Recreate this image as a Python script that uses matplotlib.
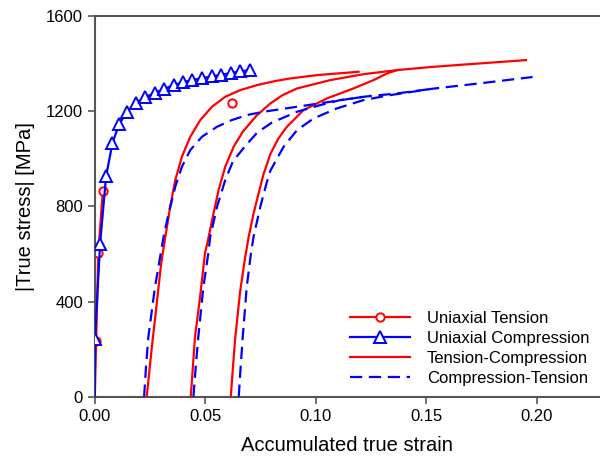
import numpy as np
import matplotlib
matplotlib.use("Agg")
import matplotlib.pyplot as plt

plt.rcParams["font.family"] = ["Liberation Sans", "DejaVu Sans"]

# uniaxial tests
ut_strain = [0.0, 0.0006, 0.0016, 0.0036, np.nan, 0.0619]
ut_stress = [0, 236, 605, 864, np.nan, 1233]

uc_strain = [0.0, 0.0001, 0.0024, 0.0051, 0.0080, 0.0111, 0.0147, 0.0185, 0.0229, 0.0273,
             0.0314, 0.0357, 0.0398, 0.0440, 0.0485, 0.0530, 0.0572, 0.0616, 0.0657, 0.0702]
uc_stress = [0, 244, 644, 926, 1067, 1148, 1197, 1235, 1260, 1277,
             1295, 1309, 1322, 1331, 1339, 1347, 1353, 1361, 1368, 1373]

# tension-compression (three reloads)
tc1_strain = [0.0235, 0.0247, 0.0258, 0.0280, 0.0300, 0.0319, 0.0341, 0.0364, 0.0394, 0.0432,
              0.0477, 0.0530, 0.0590, 0.0658, 0.0734, 0.0810, 0.0884, 0.1005, 0.1193]
tc1_stress = [0, 110, 208, 390, 560, 672, 799, 911, 1009, 1093,
              1163, 1219, 1261, 1289, 1310, 1326, 1338, 1352, 1366]
tc2_strain = [0.0434, 0.0444, 0.0453, 0.0476, 0.0498, 0.0515, 0.0537, 0.0560, 0.0590, 0.0628,
              0.0670, 0.0730, 0.0794, 0.0850, 0.0915, 0.1065, 0.1216, 0.1367, 0.1520, 0.168, 0.195]
tc2_stress = [0, 130, 250, 418, 601, 672, 771, 869, 967, 1051,
              1115, 1180, 1233, 1268, 1296, 1331, 1356, 1373, 1386, 1397, 1415]
tc3_strain = [0.0615, 0.0625, 0.0634, 0.0657, 0.0679, 0.0696, 0.0718, 0.0734, 0.0763, 0.0794,
              0.0830, 0.0869, 0.0944, 0.1050, 0.1170, 0.1261, 0.1322, 0.1367]
tc3_stress = [0, 125, 235, 440, 580, 672, 770, 830, 935, 1020,
              1085, 1135, 1205, 1254, 1296, 1331, 1359, 1373]

# compression-tension (three reloads)
ct1_strain = [0.0223, 0.0232, 0.0242, 0.0272, 0.0298, 0.0311, 0.0334, 0.0364, 0.0394, 0.0432,
              0.0485, 0.0553, 0.0620, 0.0688, 0.0763, 0.0915, 0.1065, 0.1216, 0.1367, 0.153]
ct1_stress = [0, 130, 250, 460, 601, 672, 771, 883, 967, 1037,
              1093, 1135, 1163, 1184, 1198, 1219, 1240, 1261, 1275, 1295]
ct2_strain = [0.0446, 0.0457, 0.0468, 0.0491, 0.0513, 0.0522, 0.0553, 0.0590, 0.0625, 0.0677,
              0.0734, 0.0800, 0.0915, 0.1020, 0.1110, 0.125]
ct2_stress = [0, 130, 250, 460, 601, 672, 799, 911, 990, 1050,
              1110, 1152, 1198, 1226, 1247, 1265]
ct3_strain = [0.0651, 0.0660, 0.0669, 0.0687, 0.0706, 0.0718, 0.0749, 0.0779, 0.0794, 0.0854,
              0.0915, 0.0990, 0.1095, 0.1216, 0.1337, 0.153, 0.1756, 0.198]
ct3_stress = [0, 130, 250, 460, 601, 672, 800, 905, 950, 1051,
              1121, 1170, 1212, 1247, 1268, 1295, 1319, 1344]

RED = "#ff0000"
BLUE = "#0000ff"
LW = 1.6
DASH = (0, (5.5, 3))

fig = plt.figure(figsize=(6.0, 4.67), dpi=100)
ax = fig.add_axes([0.158, 0.1505, 0.842, 0.815])

ax.plot(ut_strain, ut_stress, color=RED, lw=LW, marker="o", ms=6, mfc="white",
        mec=RED, mew=1.4, markevery=[1, 2, 3, 5], label="Uniaxial Tension", zorder=2)
ax.plot(uc_strain, uc_stress, color=BLUE, lw=LW, marker="^", ms=8, mfc="white",
        mec=BLUE, mew=1.4, markevery=list(range(1, len(uc_strain))),
        label="Uniaxial Compression", zorder=3)

for i, (xs, ys) in enumerate([(tc1_strain, tc1_stress), (tc2_strain, tc2_stress),
                              (tc3_strain, tc3_stress)]):
    ax.plot(xs, ys, color=RED, lw=LW, zorder=4,
            label="Tension-Compression" if i == 0 else None)
for i, (xs, ys) in enumerate([(ct1_strain, ct1_stress), (ct2_strain, ct2_stress),
                              (ct3_strain, ct3_stress)]):
    ax.plot(xs, ys, color=BLUE, lw=LW, ls=DASH, zorder=4,
            label="Compression-Tension" if i == 0 else None)

ax.set_xlim(0, 0.2285)
ax.set_ylim(0, 1600)
ax.set_xticks([0.0, 0.05, 0.10, 0.15, 0.20])
ax.set_xticklabels(["0.00", "0.05", "0.10", "0.15", "0.20"])
ax.set_yticks([0, 400, 800, 1200, 1600])
ax.tick_params(direction="out", length=5, width=1.2, color="#555555", labelsize=12)
for side in ["left", "bottom", "top"]:
    ax.spines[side].set_color("#555555")
    ax.spines[side].set_linewidth(1.5)
ax.spines["right"].set_visible(False)

ax.set_xlabel("Accumulated true strain", fontsize=14.5, labelpad=9)
ax.set_ylabel("|True stress| [MPa]", fontsize=14.5, labelpad=8)

ax.legend(loc="lower right", frameon=False, fontsize=12, handlelength=3.6,
          labelspacing=0.3, borderaxespad=0.25, handletextpad=1.0,
          bbox_to_anchor=(1.0, 0.0))

fig.savefig("out.png", dpi=100)
